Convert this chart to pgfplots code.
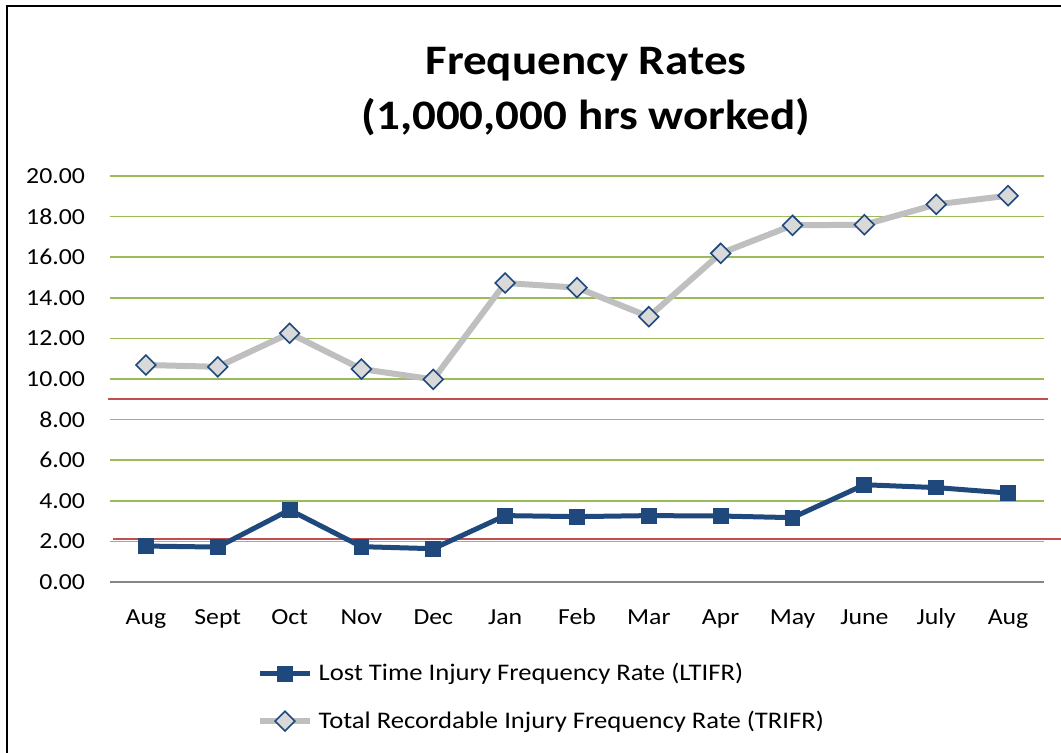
\documentclass[border=0pt]{standalone}
\usepackage{pgfplots}
\pgfplotsset{compat=1.18}
\usepackage{fontspec}
\setmainfont{Carlito}[FakeStretch=1.12]
\definecolor{navy}{HTML}{1F497D}
\definecolor{lgray}{HTML}{BFBFBF}
\definecolor{dfill}{HTML}{D9D9D9}
\definecolor{ggreen}{HTML}{9BBB59}
\definecolor{rred}{HTML}{C0504D}
\definecolor{agray}{HTML}{868686}
\begin{document}
\begin{tikzpicture}[x=0.5pt,y=0.5pt]
\useasboundingbox (0,0) rectangle (1061,753);
\draw[black, line width=1.2pt] (7,0) -- (7,747) -- (1061,747);
\node[anchor=base, font=\fontsize{21}{24}\selectfont\bfseries] at (586,678) {Frequency Rates};
\node[anchor=base, font=\fontsize{21}{24}\selectfont\bfseries] at (586,623) {(1,000,000 hrs worked)};
\begin{axis}[
  at={(55pt,85.5pt)}, anchor=south west,
  scale only axis, width=467pt, height=203pt,
  xmin=-0.5, xmax=12.5, ymin=0, ymax=20,
  xtick={0,...,12},
  xticklabels={Aug,Sept,Oct,Nov,Dec,Jan,Feb,Mar,Apr,May,June,July,Aug},
  ytick={0,2,...,20},
  /pgf/number format/fixed, /pgf/number format/fixed zerofill, /pgf/number format/precision=2,
  /pgf/number format/assume math mode=true,
  yticklabel style={xshift=-9pt},
  xticklabel style={yshift=-10pt, text height=1.6ex, text depth=0.5ex},
  ticklabel style={font=\fontsize{11.5}{13}\selectfont},
  major tick length=0pt,
  axis x line*=bottom, axis y line*=left,
  x axis line style={agray, line width=1.2pt, -},
  y axis line style={draw=none},
  ymajorgrids, grid style={ggreen, line width=0.8pt},
  clip=false,
  legend style={at={(0.157,-0.19)}, anchor=north west, draw=none, fill=none,
    font=\fontsize{11.9}{14}\selectfont, row sep=9.5pt, inner sep=0pt,
    cells={anchor=west}, /tikz/every odd column/.append style={column sep=0.8pt}},
  legend cell align=left,
  legend image code/.code={\draw[mark repeat=2,mark phase=2,#1] plot coordinates {(0pt,0pt) (12.5pt,0pt) (25pt,0pt)};},
]
\addplot[rred, line width=1pt, forget plot] coordinates {(-0.53,9.01) (12.55,9.01)};
\addplot[rred, line width=1pt, forget plot] coordinates {(-0.46,2.12) (12.75,2.12)};
\addplot[navy, line width=2.5pt, mark=square*, mark size=3.7pt, mark options={navy, line width=0pt, solid}]
 coordinates {(0,1.77) (1,1.72) (2,3.55) (3,1.74) (4,1.64) (5,3.27) (6,3.22) (7,3.27) (8,3.25) (9,3.17) (10,4.79) (11,4.65) (12,4.38)};
\addlegendentry{Lost Time Injury Frequency Rate (LTIFR)}
\addplot[lgray, line width=3pt, mark=square*, mark size=3.5pt, mark options={rotate=45, draw=navy, fill=dfill, line width=0.8pt, solid}]
 coordinates {(0,10.69) (1,10.6) (2,12.25) (3,10.49) (4,9.98) (5,14.73) (6,14.5) (7,13.07) (8,16.19) (9,17.57) (10,17.6) (11,18.6) (12,19.03)};
\addlegendentry{Total Recordable Injury Frequency Rate (TRIFR)}
\end{axis}
\end{tikzpicture}
\end{document}
